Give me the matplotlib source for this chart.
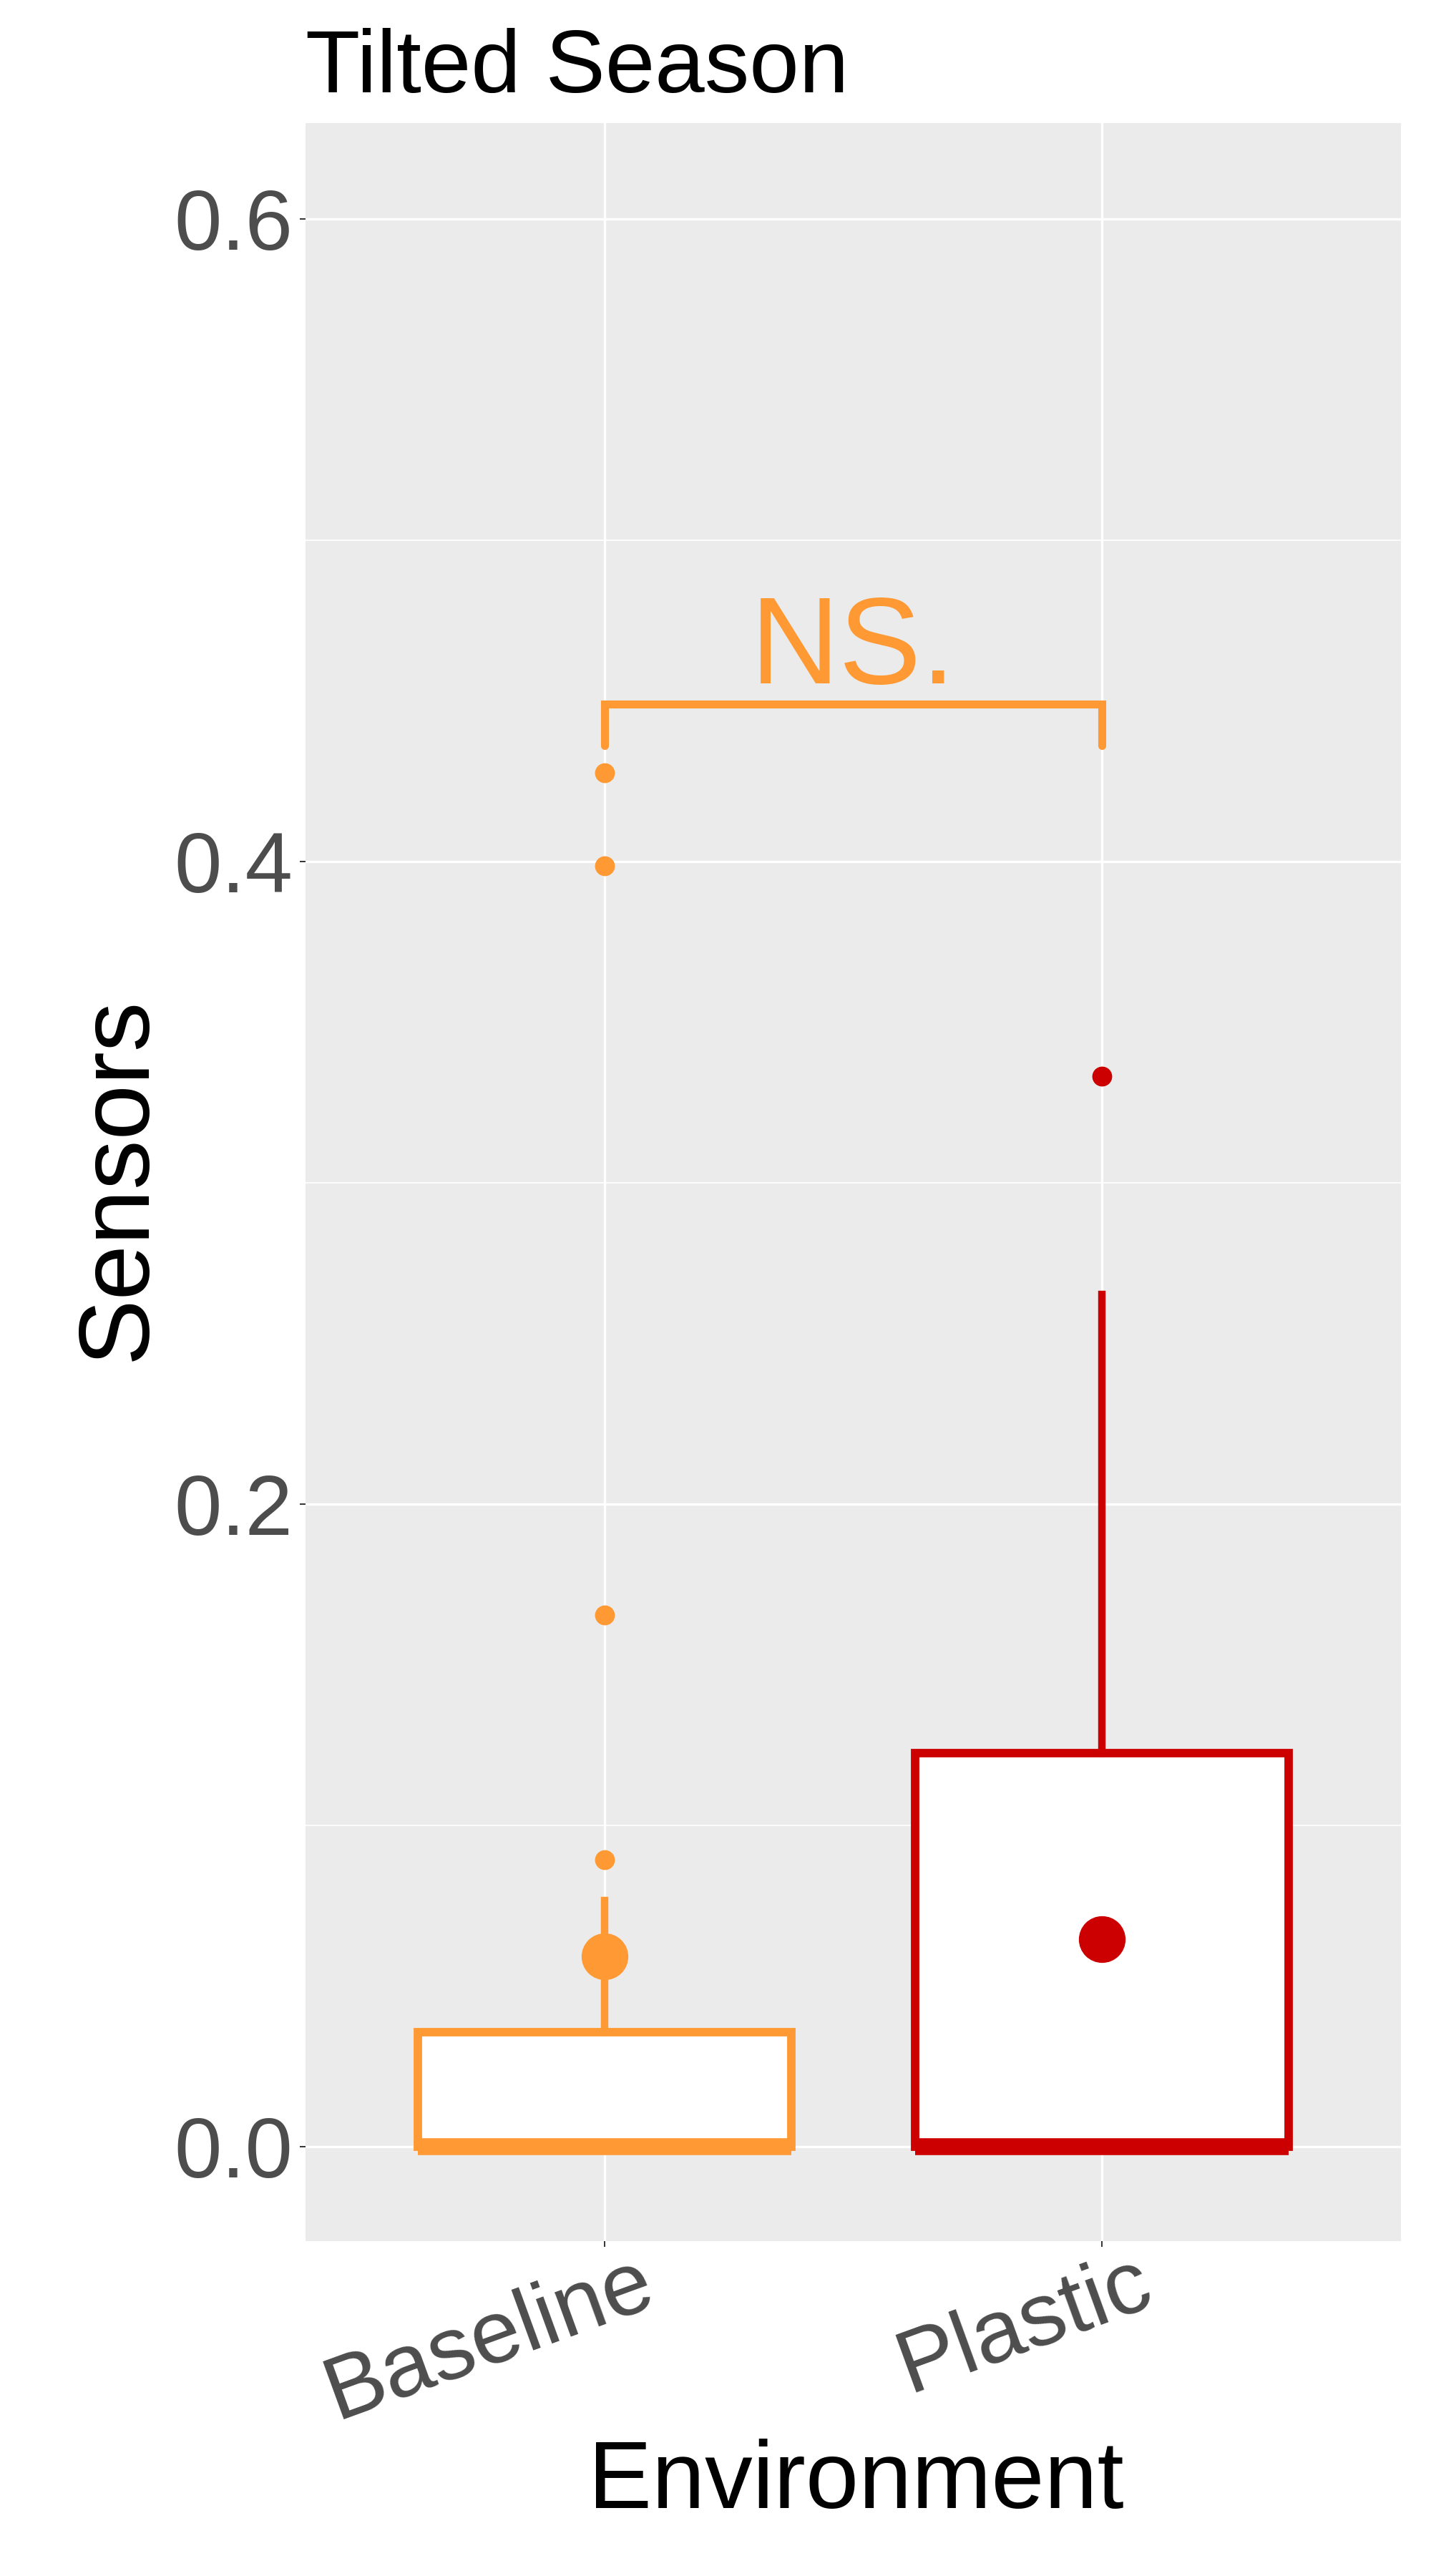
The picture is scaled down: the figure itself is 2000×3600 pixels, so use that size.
import matplotlib
matplotlib.use("Agg")
import matplotlib.pyplot as plt
import matplotlib.transforms as mtransforms

# values
groups = ["Baseline", "Plastic"]
colors = ["#FF9933", "#CC0000"]
q1 = [0.0, 0.0]
medians = [0.0, 0.0]
q3 = [0.0356, 0.1225]
whisk_lo = [0.0, 0.0]
whisk_hi = [0.0766, 0.2653]
means = [0.0592, 0.0646]
outliers = [[0.0893, 0.1655, 0.3987, 0.4276], [0.3332]]
sig_label = "NS."
bracket_y = 0.449
bracket_tip = 0.436
yticks = [0.0, 0.2, 0.4, 0.6]
yminor = [0.1, 0.3, 0.5]

plt.rcParams["font.family"] = ["Liberation Sans", "DejaVu Sans"]

fig = plt.figure(figsize=(20, 36), dpi=100)
ax = fig.add_axes([0.2135, 0.13, 0.7655, 0.8222])
ax.set_facecolor("#EBEBEB")
for s in ax.spines.values():
    s.set_visible(False)

# boxes, one group at a time so each gets its colour
for i, g in enumerate(groups):
    c = colors[i]
    stats = [dict(label=g, med=medians[i], q1=q1[i], q3=q3[i],
                  whislo=whisk_lo[i], whishi=whisk_hi[i],
                  mean=means[i], fliers=outliers[i])]
    ax.bxp(stats, positions=[i + 1], widths=0.75, patch_artist=True,
           showmeans=True, showcaps=False,
           boxprops=dict(facecolor="white", edgecolor=c, linewidth=8.5),
           whiskerprops=dict(color=c, linewidth=7.5),
           medianprops=dict(color=c, linewidth=17, solid_capstyle="butt"),
           meanprops=dict(marker="o", markerfacecolor=c, markeredgecolor=c,
                          markersize=46),
           flierprops=dict(marker="o", markerfacecolor=c, markeredgecolor=c,
                           markersize=19))

# significance bracket
ax.plot([1, 1, 2, 2], [bracket_tip, bracket_y, bracket_y, bracket_tip],
        color=colors[0], lw=8, solid_capstyle="round", solid_joinstyle="miter")
ax.text(1.5, bracket_y + 0.0065, sig_label, ha="center", va="baseline",
        fontsize=124, color=colors[0])

ax.set_xlim(0.4, 2.6)
ax.set_ylim(-0.0294, 0.6298)
ax.set_yticks(yticks)
ax.set_yticks(yminor, minor=True)
ax.set_yticklabels([f"{v:.1f}" for v in yticks])
ax.set_xticks([1, 2])
ax.set_xticklabels(groups)
ax.grid(which="major", color="white", lw=2.4)
ax.grid(which="minor", axis="y", color="white", lw=1.2)
ax.set_axisbelow(True)
ax.tick_params(which="minor", length=0)
ax.tick_params(which="major", length=5.8, width=1.4, color="#333333",
               labelcolor="#4D4D4D", labelsize=86)
ax.tick_params(axis="y", pad=7)
ax.tick_params(axis="x", labelsize=90)

off = mtransforms.ScaledTranslation(0.45, 0.12, fig.dpi_scale_trans)
for lab in ax.get_xticklabels():
    lab.set_rotation(20)
    lab.set_rotation_mode("anchor")
    lab.set_ha("right")
    lab.set_va("top")
    lab.set_transform(lab.get_transform() + off)

fig.text(0.2135, 1 - 129 / 3600, "Tilted Season", fontsize=90,
         ha="left", va="baseline")
fig.text(203 / 2000, 0.5425, "Sensors", fontsize=100, rotation=90,
         rotation_mode="anchor", ha="center", va="baseline")
fig.text(0.598, 1 - 3505 / 3600, "Environment", fontsize=96,
         ha="center", va="baseline")

fig.savefig("out.png", dpi=100)
